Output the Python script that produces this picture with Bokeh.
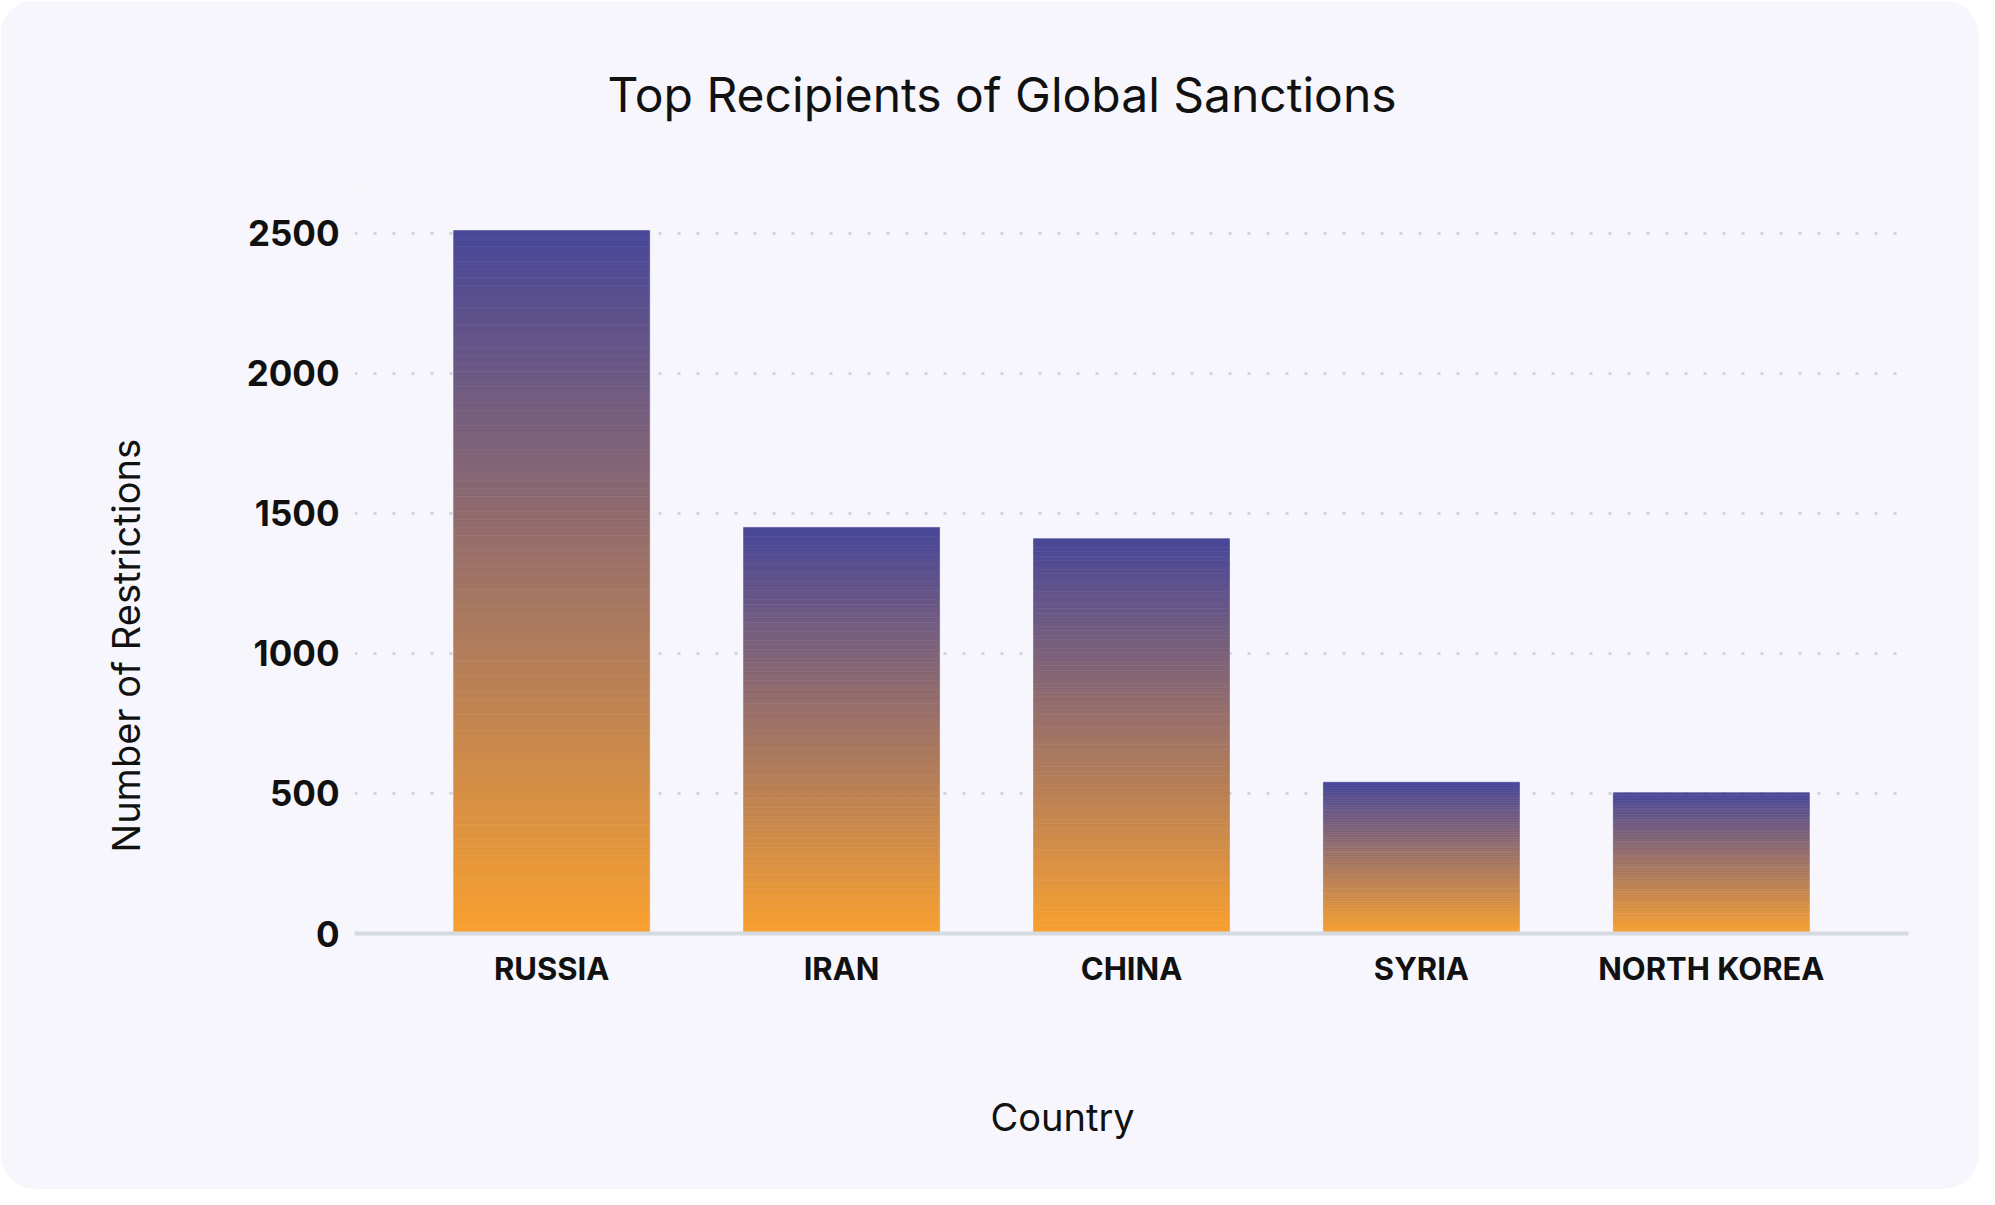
import numpy as np
from bokeh.plotting import figure
from bokeh.models import FactorRange, Range1d, FixedTicker, ColumnDataSource, Title
from bokeh.embed import file_html
from bokeh.resources import INLINE

# ---- data ----
countries = ["RUSSIA", "IRAN", "CHINA", "SYRIA", "NORTH KOREA"]
restrictions = [2510, 1450, 1410, 540, 503]
y_ticks = [0, 500, 1000, 1500, 2000, 2500]

title_text = "Top Recipients of Global Sanctions"
x_label = "Country"
y_label = "Number of Restrictions"

# ---- style ----
top_color = (72, 70, 153)
bottom_color = (249, 161, 47)
card_bg = "#F6F6FC"
FONT = "Inter"
TXT = "#111111"

W, H = 1979, 1189

p = figure(
    x_range=FactorRange(*countries, range_padding=0.072),
    y_range=Range1d(0, 2671),
    width=W, height=H,
    output_backend="svg", toolbar_location=None,
    min_border_left=354, min_border_right=71,
    min_border_top=185, min_border_bottom=256,
)

# gradient bars built from stacked slices of each value
N = 90
xs, bottoms, tops, colors = [], [], [], []
for c, v in zip(countries, restrictions):
    for i in range(N):
        t = (i + 0.5) / N
        col = tuple(int(round(b + (tc - b) * t)) for b, tc in zip(bottom_color, top_color))
        xs.append(c)
        bottoms.append(v * i / N)
        tops.append(v * (i + 1) / N)
        colors.append("#%02x%02x%02x" % col)
src = ColumnDataSource(dict(x=xs, bottom=bottoms, top=tops, color=colors))
p.vbar(x="x", bottom="bottom", top="top", width=0.676, source=src,
       fill_color="color", line_color="color", line_width=0.6)

# title
p.title.text = title_text
p.title.align = "left"
p.title.offset = 253
p.title.standoff = 124
p.title.text_font = FONT
p.title.text_font_size = "48px"
p.title.text_font_style = "normal"
p.title.text_color = TXT

# backgrounds
p.background_fill_color = card_bg
p.border_fill_color = card_bg
p.outline_line_color = None
p.styles = {"border-radius": "36px", "overflow": "hidden"}

# grids
p.xgrid.grid_line_color = None
p.ygrid.grid_line_color = "#D2D5DD"
p.ygrid.grid_line_width = 3
p.ygrid.grid_line_dash = "3 16"

# x axis
xa = p.xaxis[0]
xa.major_label_text_font = FONT
xa.major_label_text_font_size = "31px"
xa.major_label_text_font_style = "bold"
xa.major_label_text_color = TXT
xa.major_label_standoff = 10
xa.major_tick_line_color = None
xa.minor_tick_line_color = None
xa.axis_line_color = "#D5DAE1"
xa.axis_line_width = 4
# invisible spacer label to reserve room between tick labels and the axis title
xa.axis_label = " "
xa.axis_label_text_font_size = "10px"
xa.axis_label_standoff = 42

# y axis
ya = p.yaxis[0]
ya.ticker = FixedTicker(ticks=y_ticks)
ya.major_label_text_font = FONT
ya.major_label_text_font_size = "35px"
ya.major_label_text_font_style = "bold"
ya.major_label_text_color = TXT
ya.major_label_standoff = 9
ya.major_tick_line_color = None
ya.minor_tick_line_color = None
ya.axis_line_color = None

# axis titles (as offset titles so they can sit off-centre like the reference)
xt = Title(text=x_label, align="left", offset=636, standoff=93,
           text_font=FONT, text_font_size="38px", text_font_style="normal",
           text_color=TXT)
p.add_layout(xt, "below")
yt = Title(text=y_label, align="left", offset=81, standoff=189,
           text_font=FONT, text_font_size="38px", text_font_style="normal",
           text_color=TXT)
p.add_layout(yt, "left")

open("out.html", "w").write(file_html(p, INLINE))
